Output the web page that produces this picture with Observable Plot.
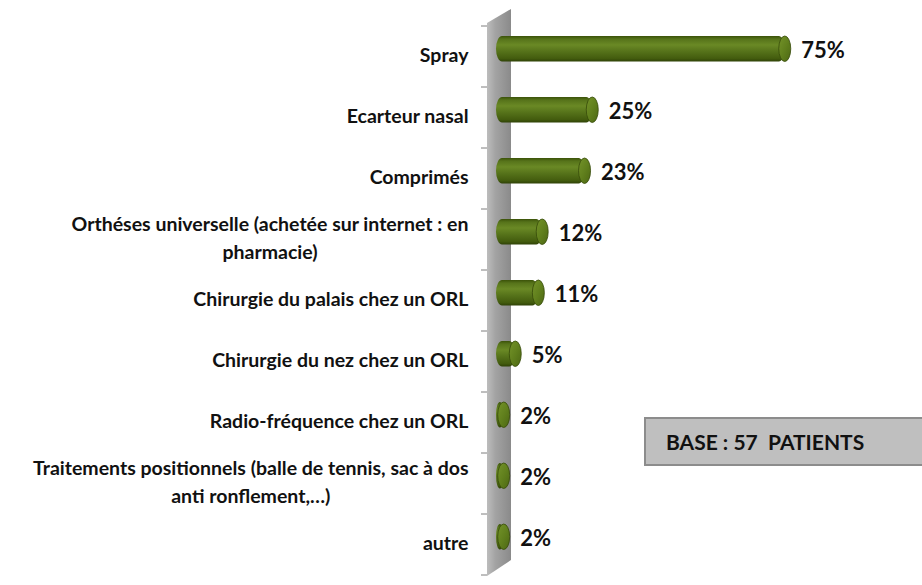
<!DOCTYPE html>
<html>
<head>
<meta charset="utf-8">
<script src="https://cdn.jsdelivr.net/npm/d3@7"></script>
<script src="https://cdn.jsdelivr.net/npm/@observablehq/plot@0.6"></script>
<style>
  html, body { margin: 0; padding: 0; background: #ffffff; }
  #wrap { position: relative; width: 922px; height: 585px; }
  #base {
    position: absolute; left: 644px; top: 417px; width: 270px; height: 45px;
    background: #bfbfbf; border: 2px solid #8c8c8c;
    font-family: Lato, sans-serif; font-weight: bold; font-size: 21px; color: #111;
    white-space: pre; line-height: 45px; padding-left: 20px; box-sizing: content-box;
  }
</style>
</head>
<body>
<div id="wrap"><div id="chart"></div><div id="base">BASE : 57  PATIENTS</div></div>
<script>
const categories = [
  "Spray",
  "Ecarteur nasal",
  "Comprimés",
  "Orthéses universelle (achetée sur internet : en\npharmacie)",
  "Chirurgie du palais chez un ORL",
  "Chirurgie du nez chez un ORL",
  "Radio-fréquence chez un ORL",
  "Traitements positionnels (balle de tennis, sac à dos\nanti ronflement,…)",
  "autre"
];
const values = [75, 25, 23, 12, 11, 5, 2, 2, 2];
const valueLabels = ["75%", "25%", "23%", "12%", "11%", "5%", "2%", "2%", "2%"];

const data = categories.map((c, i) => ({cat: c, value: values[i], label: valueLabels[i]}));

function defsMark() {
  const defs = d3.create("svg:defs");
  const bg = defs.append("linearGradient").attr("id", "barGrad").attr("x1", 0).attr("y1", 0).attr("x2", 0).attr("y2", 1);
  [[0, "#3b5209"], [0.12, "#56731a"], [0.35, "#6a8925"], [0.6, "#56731a"], [0.88, "#435c0e"], [1, "#2f4207"]]
    .forEach(([o, c]) => bg.append("stop").attr("offset", o).attr("stop-color", c));
  const cg = defs.append("linearGradient").attr("id", "capGrad").attr("x1", 0).attr("y1", 0).attr("x2", 1).attr("y2", 1);
  [[0, "#74932a"], [0.5, "#61801d"], [1, "#4c6713"]]
    .forEach(([o, c]) => cg.append("stop").attr("offset", o).attr("stop-color", c));
  const wg = defs.append("linearGradient").attr("id", "wallGrad").attr("x1", 0).attr("y1", 0).attr("x2", 1).attr("y2", 0);
  [[0, "#bdbdbd"], [0.35, "#a3a3a3"], [1, "#8a8a8a"]]
    .forEach(([o, c]) => wg.append("stop").attr("offset", o).attr("stop-color", c));
  return defs.node();
}

function wallMark(index, scales) {
  const x = scales.x, y = scales.y;
  const x0 = x(0);
  const y0 = y(categories[0]);
  const step = y(categories[1]) - y(categories[0]);
  const yEnd = y0 + step * categories.length;
  const g = d3.create("svg:g");
  const l = x0 - 9, r = x0 + 15;
  g.append("path")
    .attr("d", `M${l},${y0 - 3}L${r},${y0 - 17}L${r},${yEnd - 15}L${l},${yEnd + 1}Z`)
    .attr("fill", "url(#wallGrad)");
  for (let i = 0; i <= categories.length; i++) {
    const yy = y0 + i * step;
    g.append("line").attr("x1", x0 - 15).attr("x2", l).attr("y1", yy).attr("y2", yy)
      .attr("stroke", "#7f7f7f").attr("stroke-width", 1);
  }
  return g.node();
}

const chart = Plot.plot({
  width: 922,
  height: 585,
  marginLeft: 496,
  marginRight: 41,
  marginTop: 23,
  marginBottom: 8,
  x: {domain: [0, 100], axis: null},
  y: {domain: categories, axis: null, padding: 0},
  style: {fontFamily: "Lato, sans-serif", fontWeight: "bold", background: "transparent", color: "#111"},
  marks: [
    defsMark,
    wallMark,
    Plot.barX(data, {x: "value", y: "cat", fill: "url(#barGrad)", insetTop: 10, insetBottom: 25.5, rx: 6, ry: 13}),
    Plot.barX(data, {x1: "value", x2: "value", y: "cat", insetLeft: -6, insetRight: -6, insetTop: 10, insetBottom: 25.5,
      rx: 6, ry: 13, fill: "url(#capGrad)", stroke: "#364a09", strokeWidth: 0.8}),
    Plot.text(data, {x: "value", y: "cat", text: "label", textAnchor: "start", dx: 16, dy: -6,
      fontSize: 22, fontWeight: "bold", fill: "#111"}),
    Plot.text(data, {y: "cat", text: "cat", frameAnchor: "left", textAnchor: "end", dx: -28, dy: -4,
      fontSize: 19.5, fontWeight: "bold", fill: "#111", lineHeight: 1.45})
  ]
});
document.getElementById("chart").appendChild(chart);

// center multi-line category labels as blocks, right-aligned
d3.select(chart).selectAll("text").each(function() {
  const tspans = d3.select(this).selectAll("tspan");
  if (tspans.size() > 1) {
    let w = 0;
    tspans.each(function() { w = Math.max(w, this.getComputedTextLength()); });
    d3.select(this).attr("text-anchor", "middle");
    tspans.attr("x", -w / 2);
  }
});
</script>
</body>
</html>
